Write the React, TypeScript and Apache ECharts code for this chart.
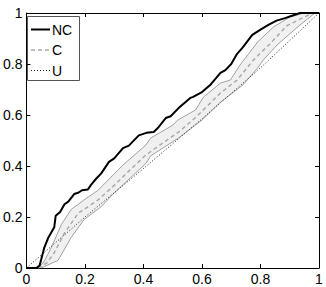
import React, { useEffect, useRef } from "react";
import * as echarts from "echarts";

const xTicks = [0, 0.2, 0.4, 0.6, 0.8, 1];
const legendNames = ["NC", "C", "U"];

const ncCurve: [number, number][] = [
  [0, 0], [0.034, 0], [0.045, 0.01], [0.061, 0.08], [0.075, 0.12], [0.095, 0.16],
  [0.1, 0.205], [0.115, 0.22], [0.13, 0.25], [0.143, 0.26], [0.163, 0.29],
  [0.177, 0.295], [0.19, 0.305], [0.21, 0.308], [0.22, 0.325], [0.238, 0.35],
  [0.255, 0.37], [0.282, 0.416], [0.3, 0.43], [0.33, 0.47], [0.35, 0.48],
  [0.384, 0.52], [0.41, 0.53], [0.435, 0.533], [0.45, 0.55], [0.476, 0.588],
  [0.493, 0.595], [0.52, 0.627], [0.56, 0.667], [0.568, 0.67], [0.6, 0.69],
  [0.63, 0.72], [0.663, 0.765], [0.68, 0.776], [0.7, 0.8], [0.72, 0.84],
  [0.738, 0.863], [0.772, 0.914], [0.8, 0.935], [0.827, 0.953], [0.855, 0.97],
  [0.884, 0.98], [0.91, 0.99], [0.935, 1.0], [1, 1],
];

const cCurve: [number, number][] = [
  [0.04, 0], [0.07, 0.02], [0.095, 0.06], [0.13, 0.137], [0.177, 0.215],
  [0.245, 0.267], [0.296, 0.32], [0.35, 0.38], [0.408, 0.443], [0.466, 0.49],
  [0.52, 0.533], [0.578, 0.59], [0.663, 0.686], [0.72, 0.737], [0.776, 0.816],
  [0.833, 0.88], [0.89, 0.95], [0.942, 0.98], [0.98, 1], [1, 1],
];

const cUpper: [number, number][] = [
  [0.035, 0], [0.058, 0.02], [0.085, 0.08], [0.119, 0.17], [0.153, 0.23],
  [0.197, 0.267], [0.245, 0.305], [0.262, 0.325], [0.33, 0.404], [0.408, 0.482],
  [0.425, 0.51], [0.5, 0.56], [0.517, 0.58], [0.578, 0.62], [0.605, 0.67],
  [0.663, 0.725], [0.697, 0.737], [0.73, 0.796], [0.79, 0.886], [0.844, 0.945],
  [0.9, 0.984], [0.95, 1], [1, 1],
];

const cLower: [number, number][] = [
  [0.05, 0], [0.108, 0.03], [0.153, 0.12], [0.197, 0.19], [0.255, 0.24],
  [0.296, 0.29], [0.408, 0.41], [0.425, 0.44], [0.52, 0.51], [0.6, 0.58],
  [0.663, 0.65], [0.74, 0.718], [0.79, 0.784], [0.81, 0.816], [0.857, 0.875],
  [0.935, 0.953], [0.986, 1], [1, 1],
];

const uCurve: [number, number][] = [
  [0, 0], [0.2, 0.2], [0.4, 0.39], [0.6, 0.585], [0.8, 0.785], [1, 1],
];

const FONT = "'Liberation Sans', Arial, sans-serif";

export default function App() {
  const ref = useRef<HTMLDivElement>(null);
  useEffect(() => {
    if (!ref.current) return;
    const chart = echarts.init(ref.current, undefined, { renderer: "svg" });
    const axisCommon = {
      type: "value" as const,
      min: xTicks[0],
      max: xTicks[xTicks.length - 1],
      interval: 0.2,
      splitLine: { show: false },
      axisLine: { show: true, onZero: false, lineStyle: { color: "#000", width: 1 } },
      axisTick: { show: true, inside: true, length: 4, lineStyle: { color: "#000", width: 1 } },
    };
    const bandPoly = [...cUpper, ...cLower.slice().reverse()];
    const legendStyles = [
      { stroke: "#000", lineWidth: 2, lineDash: null as any },
      { stroke: "#aaa", lineWidth: 1.5, lineDash: [4, 3] },
      { stroke: "#222", lineWidth: 1, lineDash: [1, 2] },
    ];
    const legendRows = [29.5, 50, 70.5];
    const legendChildren: any[] = [
      {
        type: "rect",
        shape: { x: 27.5, y: 16.5, width: 52, height: 64 },
        style: { fill: "#fff", stroke: "#555", lineWidth: 1 },
      },
    ];
    legendNames.forEach((name, i) => {
      legendChildren.push({
        type: "line",
        shape: { x1: 31, y1: legendRows[i], x2: 50, y2: legendRows[i] },
        style: { ...legendStyles[i], fill: null },
      });
      legendChildren.push({
        type: "text",
        x: 52,
        y: legendRows[i],
        style: {
          text: name,
          fill: "#000",
          font: `14px ${FONT}`,
          verticalAlign: "middle",
          align: "left",
        },
      });
    });
    chart.setOption({
      animation: false,
      backgroundColor: "#fff",
      textStyle: { fontFamily: FONT },
      grid: { left: 25, right: 7, top: 13, bottom: 19, containLabel: false },
      graphic: [{ type: "group", z: 100, children: legendChildren }],
      xAxis: [
        {
          ...axisCommon,
          position: "bottom",
          axisLabel: { fontFamily: FONT, fontSize: 14, color: "#000", margin: 4 },
        },
        {
          ...axisCommon,
          position: "top",
          axisLabel: { show: false },
        },
      ],
      yAxis: [
        {
          ...axisCommon,
          position: "left",
          axisLabel: { fontFamily: FONT, fontSize: 14, color: "#000", margin: 4 },
        },
        {
          ...axisCommon,
          position: "right",
          axisLabel: { show: false },
        },
      ],
      series: [
        {
          type: "custom",
          name: "band",
          xAxisIndex: 0,
          yAxisIndex: 0,
          silent: true,
          z: 1,
          data: [[0, 0]],
          renderItem: (params: any, api: any) => ({
            type: "polygon",
            shape: { points: bandPoly.map((p) => api.coord(p)) },
            style: { fill: "#f0f0f0", stroke: "none" },
          }),
        },
        {
          type: "line",
          name: "upper",
          data: cUpper,
          symbol: "none",
          z: 2,
          lineStyle: { color: "#8a8a8a", width: 0.8 },
        },
        {
          type: "line",
          name: "lower",
          data: cLower,
          symbol: "none",
          z: 2,
          lineStyle: { color: "#8a8a8a", width: 0.8 },
        },
        {
          type: "line",
          name: "C",
          data: cCurve,
          symbol: "none",
          z: 3,
          lineStyle: { color: "#aaa", width: 1.5, type: [4, 3] },
        },
        {
          type: "line",
          name: "U",
          data: uCurve,
          symbol: "none",
          z: 3,
          lineStyle: { color: "#222", width: 1, type: [1, 2] },
        },
        {
          type: "line",
          name: "NC",
          data: ncCurve,
          symbol: "none",
          z: 4,
          lineStyle: { color: "#000", width: 2 },
        },
      ],
    });
    return () => chart.dispose();
  }, []);
  return (
    <div
      ref={ref}
      style={{ position: "fixed", left: 0, top: 0, width: 326, height: 287, background: "#fff" }}
    />
  );
}
